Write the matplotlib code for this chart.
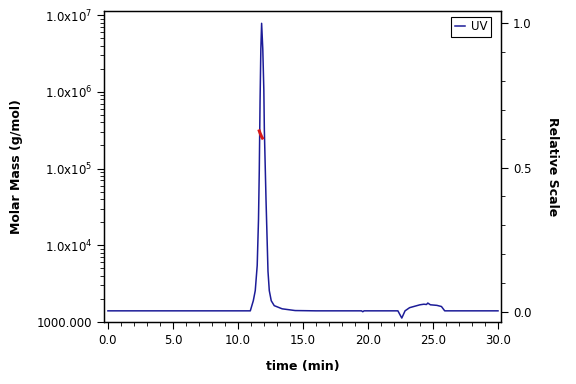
import numpy as np
import matplotlib.pyplot as plt
from matplotlib.ticker import FixedLocator, MultipleLocator, LogLocator, NullFormatter

# UV trace (relative scale)
uv_time = [0.0, 5.0, 10.0, 10.95, 11.18, 11.33, 11.48, 11.58, 11.64, 11.70, 11.76, 11.82,
           11.91, 11.99, 12.03, 12.16, 12.31, 12.41, 12.56, 12.79, 13.4, 14.4, 16.0,
           19.5, 19.6, 19.7, 22.3, 22.6, 22.85, 23.2, 23.6, 24.0, 24.3, 24.5, 24.6,
           24.8, 25.3, 25.65, 25.9, 27.0, 30.0]
uv_value = [0.003, 0.003, 0.003, 0.003, 0.038, 0.073, 0.16, 0.32, 0.49, 0.73, 0.91, 1.0,
            0.91, 0.77, 0.63, 0.385, 0.14, 0.073, 0.038, 0.021, 0.010, 0.004, 0.003,
            0.003, 0.0, 0.003, 0.003, -0.022, 0.003, 0.014, 0.019, 0.024, 0.026, 0.025, 0.03,
            0.024, 0.022, 0.018, 0.003, 0.003, 0.003]

# molar mass across the main peak
mm_time = [11.64, 11.70, 11.76, 11.82, 11.88]
mm_value = [3.1e5, 2.9e5, 2.75e5, 2.6e5, 2.5e5]

decades = [1e3, 1e4, 1e5, 1e6, 1e7]
decade_labels = ["1000.000", "1.0x10$^{4}$", "1.0x10$^{5}$", "1.0x10$^{6}$", "1.0x10$^{7}$"]

plt.rcParams['font.family'] = ['DejaVu Sans']
plt.rcParams['mathtext.default'] = 'regular'

fig = plt.figure(figsize=(5.76, 3.84), dpi=100)
ax = fig.add_axes([0.1806, 0.1622, 0.6892, 0.8099])
ax2 = ax.twinx()

navy = '#1c1c98'
ax2.plot(uv_time, uv_value, color=navy, lw=1.1, label='UV')
ax.plot(mm_time, mm_value, color='#d81818', lw=2.2, zorder=5)
ax.set_zorder(ax2.get_zorder() + 1)
ax.patch.set_visible(False)

ax.set_xlim(-0.3, 30.23)
ax.set_yscale('log')
ax.set_ylim(1000, 1.15e7)
ax.yaxis.set_major_locator(FixedLocator(decades))
ax.set_yticklabels(decade_labels)
ax.yaxis.set_minor_locator(LogLocator(base=10, subs=np.arange(2, 10)))
ax.yaxis.set_minor_formatter(NullFormatter())

ax.set_xticks(np.arange(0, 31, 5))
ax.set_xticklabels([f"{v:.1f}" for v in np.arange(0, 31, 5)])
ax.xaxis.set_minor_locator(MultipleLocator(1.0))

ax2.set_ylim(-0.0347, 1.0437)
ax2.set_yticks([0.0, 0.5, 1.0])
ax2.set_yticklabels(["0.0", "0.5", "1.0"])
ax2.yaxis.set_minor_locator(MultipleLocator(0.1))

for a in (ax, ax2):
    a.tick_params(which='major', direction='out', length=5, width=0.8, labelsize=8.5, colors='black')
    a.tick_params(which='minor', direction='out', length=3, width=0.6)
    for s in a.spines.values():
        s.set_linewidth(0.9)

ax.set_xlabel("time (min)", fontsize=9, fontweight='bold', labelpad=10)
ax.set_ylabel("Molar Mass (g/mol)", fontsize=9, fontweight='bold', labelpad=10)
ax2.set_ylabel("Relative Scale", fontsize=9, fontweight='bold', rotation=270, labelpad=20)

leg = ax2.legend(loc='upper right', fontsize=8.5, handlelength=0.9, handletextpad=0.5,
                 borderpad=0.3, fancybox=False, framealpha=1, edgecolor='black',
                 bbox_to_anchor=(0.99, 1.0))
leg.get_frame().set_linewidth(0.8)

fig.savefig("out.png", dpi=100)
